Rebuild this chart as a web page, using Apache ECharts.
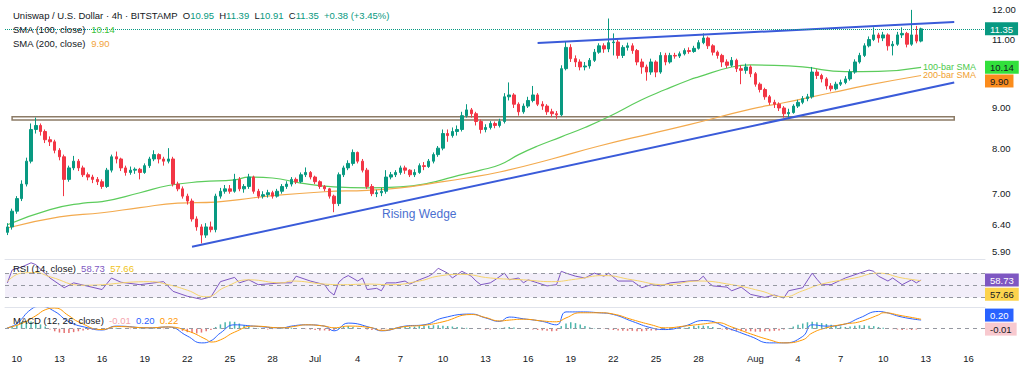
<!DOCTYPE html>
<html><head><meta charset="utf-8">
<script src="https://cdn.jsdelivr.net/npm/echarts@6/dist/echarts.min.js"></script>
<style>html,body{margin:0;padding:0;background:#fff}#c{width:1024px;height:374px}</style>
</head><body><div id="c"></div>
<script>
const F = "'Liberation Sans', Arial, sans-serif";
const startUTC = Date.UTC(2024, 5, 9, 8);
const barHours = 8;
const categoryCount = 207;
const xTickDates = ['06-10','06-13','06-16','06-19','06-22','06-25','06-28','07-01','07-04','07-07','07-10','07-13','07-16','07-19','07-22','07-25','07-28','08-01','08-04','08-07','08-10','08-13','08-16'];
const xTickLabels = ['10','13','16','19','22','25','28','Jul','4','7','10','13','16','19','22','25','28','Aug','4','7','10','13','16'];
const priceTicks = [5.9, 6.4, 7, 8, 9, 11, 12];

// [open, close, low, high]
const candles = [
[6.25,6.35,6.20,6.42],[6.35,6.65,6.30,6.70],[6.65,6.90,6.60,6.95],[6.90,7.20,6.85,7.28],[7.20,7.70,7.15,7.78],
[7.70,8.45,7.65,8.60],[8.45,8.55,8.35,8.75],[8.55,8.40,8.30,8.60],[8.40,8.20,8.12,8.45],[8.20,8.15,8.05,8.28],
[8.15,7.95,7.88,8.20],[7.95,7.80,7.72,8.00],[7.80,7.30,6.95,7.85],[7.30,7.55,7.25,7.60],[7.55,7.70,7.50,7.82],
[7.70,7.55,7.48,7.75],[7.55,7.40,7.35,7.60],[7.40,7.35,7.28,7.45],[7.35,7.30,7.22,7.40],[7.30,7.25,7.18,7.35],
[7.25,7.15,7.10,7.30],[7.15,7.50,7.12,7.55],[7.50,7.80,7.45,7.85],[7.80,7.75,7.65,7.92],[7.75,7.55,7.48,7.78],
[7.55,7.45,7.38,7.60],[7.45,7.50,7.40,7.58],[7.50,7.52,7.42,7.56],[7.52,7.45,7.30,7.55],[7.45,7.60,7.42,7.65],
[7.60,7.75,7.55,7.80],[7.75,7.85,7.70,7.95],[7.85,7.75,7.65,7.88],[7.75,7.70,7.60,7.80],[7.70,7.75,7.65,8.00],
[7.75,7.20,7.15,7.80],[7.20,7.10,7.05,7.25],[7.10,6.95,6.90,7.15],[6.95,6.85,6.78,7.00],[6.85,6.50,6.45,6.90],
[6.50,6.35,6.28,6.55],[6.35,6.20,6.05,6.40],[6.20,6.35,6.15,6.42],[6.35,6.30,6.25,6.45],[6.30,6.95,6.25,7.00],
[6.95,7.05,6.90,7.12],[7.05,7.10,7.00,7.18],[7.10,7.05,7.00,7.18],[7.05,7.30,7.02,7.42],[7.30,7.10,7.05,7.35],
[7.10,7.15,7.02,7.20],[7.15,7.35,7.10,7.42],[7.35,7.05,7.00,7.38],[7.05,6.95,6.90,7.10],[6.95,6.98,6.90,7.05],
[6.98,7.02,6.92,7.08],[7.02,6.95,6.90,7.06],[6.95,7.05,6.92,7.10],[7.05,7.15,7.00,7.20],[7.15,7.20,7.10,7.26],
[7.20,7.30,7.15,7.35],[7.30,7.25,7.20,7.34],[7.25,7.40,7.22,7.45],[7.40,7.45,7.35,7.56],[7.45,7.35,7.30,7.48],
[7.35,7.25,7.20,7.38],[7.25,7.15,7.10,7.28],[7.15,7.10,7.05,7.18],[7.10,6.95,6.90,7.12],[6.95,6.80,6.63,6.98],
[6.80,7.40,6.75,7.45],[7.40,7.55,7.35,7.60],[7.55,7.65,7.50,7.72],[7.65,7.90,7.60,7.97],[7.90,7.70,7.65,7.92],
[7.70,7.50,7.45,7.75],[7.50,7.15,7.10,7.55],[7.15,7.00,6.95,7.20],[7.00,7.02,6.93,7.08],[7.02,7.05,6.95,7.12],
[7.05,7.35,7.00,7.50],[7.35,7.40,7.30,7.46],[7.40,7.45,7.35,7.50],[7.45,7.55,7.40,7.60],[7.55,7.50,7.42,7.60],
[7.50,7.40,7.35,7.52],[7.40,7.45,7.35,7.52],[7.45,7.60,7.42,7.65],[7.60,7.58,7.50,7.68],[7.58,7.70,7.55,7.75],
[7.70,7.85,7.65,7.90],[7.85,8.00,7.80,8.05],[8.00,8.35,7.95,8.45],[8.35,8.30,8.15,8.45],[8.30,8.40,8.25,8.50],
[8.40,8.45,8.30,8.55],[8.45,8.80,8.40,8.90],[8.80,8.95,8.75,9.10],[8.95,8.85,8.75,9.00],[8.85,8.65,8.55,8.90],
[8.65,8.45,8.35,8.70],[8.45,8.50,8.38,8.58],[8.50,8.60,8.45,8.66],[8.60,8.55,8.48,8.65],[8.55,8.65,8.50,8.72],
[8.65,9.30,8.60,9.40],[9.30,9.35,9.20,9.70],[9.35,9.10,9.00,9.40],[9.10,8.90,8.80,9.15],[8.90,9.05,8.85,9.12],
[9.05,9.20,9.00,9.30],[9.20,9.35,9.15,9.60],[9.35,9.10,9.05,9.40],[9.10,9.05,8.95,9.18],[9.05,8.90,8.82,9.10],
[8.90,8.85,8.76,8.98],[8.85,8.82,8.72,8.92],[8.82,10.10,8.78,10.20],[10.10,10.75,10.05,10.95],[10.75,10.40,10.30,10.85],
[10.40,10.30,10.15,10.50],[10.30,10.15,10.05,10.38],[10.15,10.18,10.05,10.30],[10.18,10.35,10.10,10.42],[10.35,10.60,10.30,10.70],
[10.60,10.80,10.55,10.88],[10.80,10.70,10.58,10.88],[10.70,10.90,10.60,11.70],[10.90,10.92,10.50,11.20],[10.92,10.50,10.40,11.00],
[10.50,10.75,10.42,10.82],[10.75,10.80,10.65,10.90],[10.80,10.65,10.55,10.88],[10.65,10.30,10.20,10.70],[10.30,10.15,9.95,10.40],
[10.15,10.00,9.75,10.22],[10.00,10.30,9.92,10.40],[10.30,10.00,9.85,10.35],[10.00,10.50,9.95,10.60],[10.50,10.30,10.20,10.58],
[10.30,10.50,10.25,10.58],[10.50,10.48,10.40,10.58],[10.48,10.55,10.42,10.62],[10.55,10.65,10.50,10.72],[10.65,10.62,10.55,10.75],
[10.62,10.72,10.58,10.80],[10.72,10.90,10.68,10.98],[10.90,11.05,10.85,11.20],[11.05,10.80,10.70,11.10],[10.80,10.60,10.50,10.85],
[10.60,10.50,10.40,10.65],[10.50,10.30,10.15,10.55],[10.30,10.20,10.12,10.38],[10.20,10.35,10.15,10.45],[10.35,10.10,10.00,10.40],
[10.10,10.05,9.65,10.20],[10.05,10.15,9.95,10.25],[10.15,9.95,9.85,10.20],[9.95,9.65,9.58,10.00],[9.65,9.50,9.42,9.70],
[9.50,9.30,9.22,9.55],[9.30,9.15,9.08,9.35],[9.15,9.10,9.00,9.22],[9.10,9.00,8.92,9.15],[9.00,8.85,8.75,9.05],
[8.85,8.88,8.72,8.98],[8.88,9.05,8.85,9.10],[9.05,9.15,9.00,9.22],[9.15,9.25,9.10,9.32],[9.25,9.30,9.18,9.38],
[9.30,10.00,9.25,10.15],[10.00,9.90,9.80,10.08],[9.90,9.80,9.70,9.95],[9.80,9.60,9.50,9.85],[9.60,9.52,9.45,9.68],
[9.52,9.65,9.48,9.72],[9.65,9.70,9.60,9.78],[9.70,9.80,9.65,9.88],[9.80,10.00,9.75,10.08],[10.00,10.30,9.95,10.38],
[10.30,10.50,10.25,10.58],[10.50,10.80,10.45,10.88],[10.80,11.00,10.75,11.10],[11.00,11.15,10.95,11.40],[11.15,11.05,10.90,11.22],
[11.05,11.15,10.95,11.25],[11.15,10.80,10.65,11.20],[10.80,10.85,10.50,10.95],[10.85,11.15,10.80,11.25],[11.15,11.20,11.05,11.40],
[11.20,10.85,10.75,11.25],[10.85,11.15,10.80,12.00],[11.15,10.95,10.88,11.45],[10.95,11.35,10.91,11.39]
];

const sma100 = [[0,6.39],[9,6.68],[16,6.81],[20,6.84],[28,7.02],[34,7.17],[41,7.25],[48,7.29],[51,7.35],[56,7.33],[62,7.22],[69,7.14],[76,7.12],[83,7.14],[89,7.22],[94,7.35],[100,7.50],[104,7.62],[108,7.85],[112,8.05],[117,8.27],[122,8.50],[127,8.77],[134,9.22],[139,9.50],[144,9.77],[146,9.86],[153,10.15],[157,10.21],[162,10.20],[168,10.15],[177,10.01],[184,10.02],[193,10.14]];
const sma200 = [[0,6.33],[11,6.54],[20,6.62],[28,6.72],[36,6.81],[44,6.83],[49,6.88],[56,6.96],[67,7.04],[76,7.07],[83,7.12],[90,7.22],[97,7.33],[104,7.46],[115,7.75],[125,8.05],[136,8.35],[144,8.57],[157,8.97],[164,9.14],[174,9.41],[182,9.63],[193,9.90]];

const rsi = [[0,54],[1,75],[3,80],[5,87],[6,84],[9,62],[12,46],[14,54],[20,43],[22,62],[24,55],[28,51],[33,56],[35,40],[38,32],[41,27],[43,31],[45,56],[48,63],[49,54],[51,59],[53,51],[58,54],[60,54],[61,65],[64,57],[67,51],[68,40],[69,34],[70,55],[71,62],[72,66],[74,57],[75,62],[76,43],[78,45],[79,41],[80,54],[82,54],[84,57],[85,52],[87,59],[89,65],[90,70],[91,78],[93,70],[94,62],[96,73],[98,65],[99,57],[100,51],[102,54],[103,59],[105,70],[106,59],[108,62],[109,54],[110,59],[112,54],[114,49],[115,50],[116,51],[117,73],[118,70],[120,65],[122,62],[124,70],[126,65],[127,70],[129,57],[132,57],[134,46],[136,51],[138,49],[140,54],[144,57],[146,58],[147,65],[148,55],[149,49],[152,47],[153,41],[155,47],[157,35],[160,30],[162,34],[164,29],[165,41],[168,46],[170,70],[171,60],[172,51],[174,51],[177,62],[180,70],[182,75],[183,73],[184,65],[186,57],[187,62],[189,51],[191,59],[192,54],[193,58.73]];
const rsiMa = [[0,56],[3,70],[6,71],[9,64],[16,50],[30,56],[34,51],[38,42],[42,31],[46,47],[51,59],[58,54],[60,57],[67,52],[71,51],[76,52],[81,51],[87,57],[91,65],[96,68],[102,62],[109,59],[115,56],[120,60],[126,66],[132,59],[139,51],[146,57],[153,51],[159,41],[164,31],[168,41],[172,52],[179,62],[184,70],[189,62],[193,57.66]];

const macd = [[0,0.02],[2,0.12],[5,0.45],[7,0.52],[10,0.40],[13,0.16],[17,0.02],[20,-0.03],[23,0.06],[30,0.02],[34,0.04],[38,-0.17],[41,-0.33],[43,-0.28],[45,-0.10],[48,0.09],[52,0.06],[58,0.02],[60,0.06],[63,0.09],[67,0.06],[69,-0.05],[72,0.13],[77,0.02],[79,-0.05],[84,0.06],[88,0.09],[92,0.25],[98,0.34],[101,0.25],[104,0.17],[106,0.27],[109,0.23],[113,0.17],[116,0.09],[118,0.39],[121,0.39],[125,0.37],[128,0.33],[132,0.17],[136,0.02],[139,-0.02],[143,0.06],[147,0.19],[153,-0.02],[157,-0.18],[161,-0.33],[164,-0.33],[168,-0.18],[170,0.09],[173,0.06],[177,0.11],[180,0.25],[184,0.40],[185,0.39],[189,0.27],[193,0.20]];
const signal = [[0,0.02],[3,0.12],[6,0.30],[8,0.44],[10,0.48],[13,0.30],[15,0.16],[20,-0.02],[23,0.05],[30,0.02],[34,0.04],[38,-0.05],[42,-0.25],[43,-0.31],[45,-0.26],[48,-0.08],[52,0.06],[58,0.02],[61,0.06],[63,0.09],[67,0.06],[69,0.02],[72,0.06],[77,0.02],[79,-0.04],[84,0.05],[88,0.08],[92,0.16],[98,0.33],[101,0.26],[104,0.18],[106,0.20],[109,0.22],[113,0.18],[116,0.16],[118,0.25],[121,0.37],[125,0.37],[128,0.34],[132,0.21],[136,0.09],[139,0.02],[143,0.06],[147,0.11],[150,0.14],[153,0.04],[157,-0.12],[161,-0.26],[164,-0.33],[168,-0.26],[170,-0.10],[173,0.02],[177,0.11],[180,0.16],[184,0.32],[185,0.37],[189,0.30],[193,0.22]];
const hist = [
0.02,0.05,0.10,0.15,0.18,0.17,0.14,0.10,0.05,
-0.02,-0.06,-0.09,-0.10,-0.10,-0.08,-0.06,-0.04,-0.03,-0.02,-0.01,-0.01,
0.01,0.02,0.02,0.01,0.00,-0.01,-0.01,0.01,0.01,0.02,0.01,0.00,-0.01,0.01,0.00,-0.02,
-0.05,-0.08,-0.10,-0.11,-0.09,-0.06,-0.03,
0.04,0.10,0.15,0.17,0.16,0.12,0.08,0.05,
0.02,0.01,-0.01,-0.02,-0.01,0.00,0.01,0.02,0.02,
0.01,0.00,-0.01,-0.02,-0.03,-0.04,-0.04,-0.05,-0.03,0.02,
0.05,0.06,0.04,0.02,0.00,-0.02,-0.03,-0.03,-0.02,-0.01,0.01,0.02,
0.03,0.04,0.04,0.05,0.06,0.07,0.07,0.08,0.08,0.07,0.06,0.05,0.04,0.03,0.02,0.01,0.00,-0.01,
-0.02,-0.02,-0.01,0.01,0.03,0.04,0.03,0.01,0.00,-0.01,-0.02,-0.03,-0.04,-0.05,-0.06,-0.05,
0.06,0.12,0.15,0.13,0.10,0.06,0.03,
0.01,0.00,-0.01,-0.02,-0.03,-0.04,-0.05,-0.05,-0.05,-0.06,-0.06,-0.05,-0.04,-0.04,-0.03,-0.02,-0.01,0.00,0.01,0.02,
0.04,0.06,0.07,0.07,0.06,0.04,0.01,
-0.02,-0.03,-0.04,-0.05,-0.06,-0.06,-0.06,-0.07,-0.07,-0.06,-0.06,-0.05,-0.04,-0.02,0.01,
0.05,0.09,0.12,0.15,0.16,0.15,0.13,0.11,0.09,0.07,0.05,0.04,
0.05,0.07,0.08,0.08,0.07,0.06,0.04,
0.02,0.00,-0.01,-0.02,-0.03,-0.02,-0.03,-0.02,-0.01
];

const lowerWedge = [[39, 5.99], [200, 9.70]];
const upperWedge = [[112, 10.89], [200, 11.58]];
const zoneBand = [[1, 8.69], [200, 8.77]];
const wedgeLabelAt = [87, 6.60];
const lastClose = 11.35, lastSma100 = 10.14, lastSma200 = 9.90;
const lastRsi = 58.73, lastRsiMa = 57.66, lastMacd = 0.20, lastSignal = 0.22, lastHist = -0.01;

function pad(n){ return (n < 10 ? '0' : '') + n; }
const categories = [];
for (let i = 0; i < categoryCount; i++) {
  const d = new Date(startUTC + i * barHours * 3600000);
  categories.push(pad(d.getUTCMonth() + 1) + '-' + pad(d.getUTCDate()) + ' ' + pad(d.getUTCHours()));
}
const tickMap = {};
xTickDates.forEach((d, k) => { tickMap[d + ' 00'] = xTickLabels[k]; });

function boxLabel(text, bg, fg, padTop, padBottom) {
  return {
    show: true, position: 'end', distance: 0, opacity: 1,
    padding: [padTop || 0, 0, padBottom || 0, 0],
    formatter: '{b|' + text + '}',
    rich: { b: { backgroundColor: bg, color: fg, padding: [2, 5, 1, 5], fontSize: 9.5, fontFamily: F, lineHeight: 11 } }
  };
}
const hidden = { color: 'rgba(0,0,0,0)', width: 1, type: 'solid' };

const chart = echarts.init(document.getElementById('c'), null, { renderer: 'svg' });
const baseX = { type: 'category', data: categories, boundaryGap: true, axisTick: { show: false }, splitLine: { show: false } };
const rt = { fontSize: 9.5, fontFamily: F, lineHeight: 13.7 };
chart.setOption({
  animation: false,
  backgroundColor: '#ffffff',
  title: [
    { left: 13, top: 9, padding: 0,
      text: '{a|Uniswap / U.S. Dollar · 4h · BITSTAMP}  {a|O}{g|10.95}  {a|H}{g|11.39}  {a|L}{g|10.91}  {a|C}{g|11.35}  {g|+0.38 (+3.45%)}\n{a|SMA (100, close)}  {s|10.14}\n{a|SMA (200, close)}  {o|9.90}',
      textStyle: { fontSize: 9.5, fontFamily: F, fontWeight: 'normal', lineHeight: 13.7,
        rich: { a: Object.assign({ color: '#131722' }, rt), g: Object.assign({ color: '#089981' }, rt), s: Object.assign({ color: '#3cc13c' }, rt), o: Object.assign({ color: '#f2a33a' }, rt) } } },
    { left: 13, top: 262, padding: 0,
      text: '{a|RSI (14, close)}  {p|58.73}  {y|57.66}',
      textStyle: { fontSize: 9.5, fontFamily: F, fontWeight: 'normal', lineHeight: 12,
        rich: { a: Object.assign({ color: '#131722' }, rt), p: Object.assign({ color: '#7e57c2' }, rt), y: Object.assign({ color: '#f0c419' }, rt) } } },
    { left: 13, top: 314, padding: 0,
      text: '{a|MACD (12, 26, close)}  {r|-0.01}  {b|0.20}  {o|0.22}',
      textStyle: { fontSize: 9.5, fontFamily: F, fontWeight: 'normal', lineHeight: 12,
        rich: { a: Object.assign({ color: '#131722' }, rt), r: Object.assign({ color: '#f4a5ad' }, rt), b: Object.assign({ color: '#2962ff' }, rt), o: Object.assign({ color: '#ff9800' }, rt) } } }
  ],
  grid: [
    { left: 5, right: 39, top: 2, height: 257, outerBoundsMode: 'none', containLabel: false },
    { left: 5, right: 39, top: 260, height: 47, outerBoundsMode: 'none', containLabel: false },
    { left: 5, right: 39, top: 308, height: 40, outerBoundsMode: 'none', containLabel: false }
  ],
  xAxis: [
    Object.assign({ gridIndex: 0, axisLine: { show: true, lineStyle: { color: '#e0e3eb' } }, axisLabel: { show: false } }, baseX),
    Object.assign({ gridIndex: 1, axisLine: { show: true, lineStyle: { color: '#e0e3eb' } }, axisLabel: { show: false } }, baseX),
    Object.assign({ gridIndex: 2, axisLine: { show: false },
      axisLabel: { show: true, color: '#131722', fontSize: 9.5, fontFamily: F, margin: 5,
        interval: (idx, val) => tickMap[val] !== undefined,
        formatter: (val) => tickMap[val] || '' } }, baseX)
  ],
  yAxis: [
    { type: 'log', logBase: 10, gridIndex: 0, position: 'right', min: 5.78, max: 12.28,
      axisLine: { show: false }, axisTick: { show: false }, splitLine: { show: false }, minorTick: { show: false },
      axisLabel: { customValues: priceTicks, formatter: (v) => Number(v).toFixed(2), color: '#131722', fontSize: 9.5, fontFamily: F, margin: 7 } },
    { type: 'value', gridIndex: 1, position: 'right', min: 14.3, max: 91.6,
      axisLine: { show: false }, axisTick: { show: false }, splitLine: { show: false }, axisLabel: { show: false } },
    { type: 'value', gridIndex: 2, position: 'right', min: -0.449, max: 0.481,
      axisLine: { show: false }, axisTick: { show: false }, splitLine: { show: false }, axisLabel: { show: false } }
  ],
  series: [
    { type: 'candlestick', xAxisIndex: 0, yAxisIndex: 0, data: candles, barWidth: 3, z: 3,
      itemStyle: { color: '#089981', color0: '#f23645', borderColor: '#089981', borderColor0: '#f23645', borderWidth: 1 },
      markArea: { silent: true, itemStyle: { color: 'rgba(255,255,255,0)', borderColor: '#8c7b66', borderWidth: 1.5 },
        data: [[{ coord: zoneBand[0] }, { coord: zoneBand[1] }]] },
      markLine: { silent: true, symbol: ['none', 'none'], label: { show: false },
        lineStyle: { color: '#3a5bd9', width: 2, type: 'solid' },
        data: [
          [{ coord: lowerWedge[0] }, { coord: lowerWedge[1] }],
          [{ coord: upperWedge[0] }, { coord: upperWedge[1] }],
          { yAxis: lastClose, lineStyle: { color: '#089981', width: 1, type: 'dotted' }, label: boxLabel('11.35', '#089981', '#ffffff') }
        ] },
      markPoint: { silent: true, symbol: 'circle', symbolSize: 1, itemStyle: { color: 'rgba(0,0,0,0)' },
        data: [{ coord: wedgeLabelAt, label: { show: true, position: 'inside', formatter: 'Rising Wedge', color: '#4a6fd0', fontSize: 12, fontFamily: F } }] } },
    { type: 'line', xAxisIndex: 0, yAxisIndex: 0, data: sma100, smooth: true, showSymbol: false, symbol: 'none',
      lineStyle: { color: '#5ccc5c', width: 1.2 },
      endLabel: { show: true, formatter: '100-bar SMA', color: '#4cc94c', fontSize: 9, fontFamily: F, distance: 2 },
      markLine: { silent: true, symbol: ['none', 'none'], lineStyle: hidden,
        data: [{ yAxis: lastSma100, label: boxLabel('10.14', '#32e03c', '#131722') }] } },
    { type: 'line', xAxisIndex: 0, yAxisIndex: 0, data: sma200, smooth: true, showSymbol: false, symbol: 'none',
      lineStyle: { color: '#f3aa4e', width: 1.2 },
      endLabel: { show: true, formatter: '200-bar SMA', color: '#f0a030', fontSize: 9, fontFamily: F, distance: 2 },
      markLine: { silent: true, symbol: ['none', 'none'], lineStyle: hidden,
        data: [{ yAxis: lastSma200, label: boxLabel('9.90', '#fb8c1c', '#131722', 11, 0) }] } },
    { type: 'line', xAxisIndex: 1, yAxisIndex: 1, data: rsi, showSymbol: false, symbol: 'none',
      lineStyle: { color: '#7e57c2', width: 1 },
      markArea: { silent: true, itemStyle: { color: 'rgba(126,87,194,0.1)' }, data: [[{ yAxis: 30 }, { yAxis: 70 }]] },
      markLine: { silent: true, symbol: ['none', 'none'], label: { show: false },
        lineStyle: { color: '#9598a1', width: 1, type: [4, 4] },
        data: [{ yAxis: 70 }, { yAxis: 50 }, { yAxis: 30 },
          { yAxis: lastRsi, lineStyle: hidden, label: boxLabel('58.73', '#7e57c2', '#ffffff') }] } },
    { type: 'line', xAxisIndex: 1, yAxisIndex: 1, data: rsiMa, smooth: true, showSymbol: false, symbol: 'none',
      lineStyle: { color: '#f5d36b', width: 1 },
      markLine: { silent: true, symbol: ['none', 'none'], lineStyle: hidden,
        data: [{ yAxis: lastRsiMa, label: boxLabel('57.66', '#fcd34d', '#131722', 27, 0) }] } },
    { type: 'bar', xAxisIndex: 2, yAxisIndex: 2, data: hist, barWidth: 1.5,
      itemStyle: { color: (p) => p.value >= 0 ? '#4db6ac' : '#e57373' },
      markLine: { silent: true, symbol: ['none', 'none'], label: { show: false },
        lineStyle: { color: '#9598a1', width: 1, type: [4, 4] },
        data: [{ yAxis: 0 },
          { yAxis: lastHist, lineStyle: hidden, label: boxLabel('-0.01', '#f8c9cf', '#131722') }] } },
    { type: 'line', xAxisIndex: 2, yAxisIndex: 2, data: macd, smooth: true, showSymbol: false, symbol: 'none',
      lineStyle: { color: '#2962ff', width: 1 },
      markLine: { silent: true, symbol: ['none', 'none'], lineStyle: hidden,
        data: [{ yAxis: lastMacd, label: boxLabel('0.20', '#2962ff', '#ffffff', 0, 10) }] } },
    { type: 'line', xAxisIndex: 2, yAxisIndex: 2, data: signal, smooth: true, showSymbol: false, symbol: 'none',
      lineStyle: { color: '#ff9800', width: 1 } }
  ]
});
</script>
</body></html>
